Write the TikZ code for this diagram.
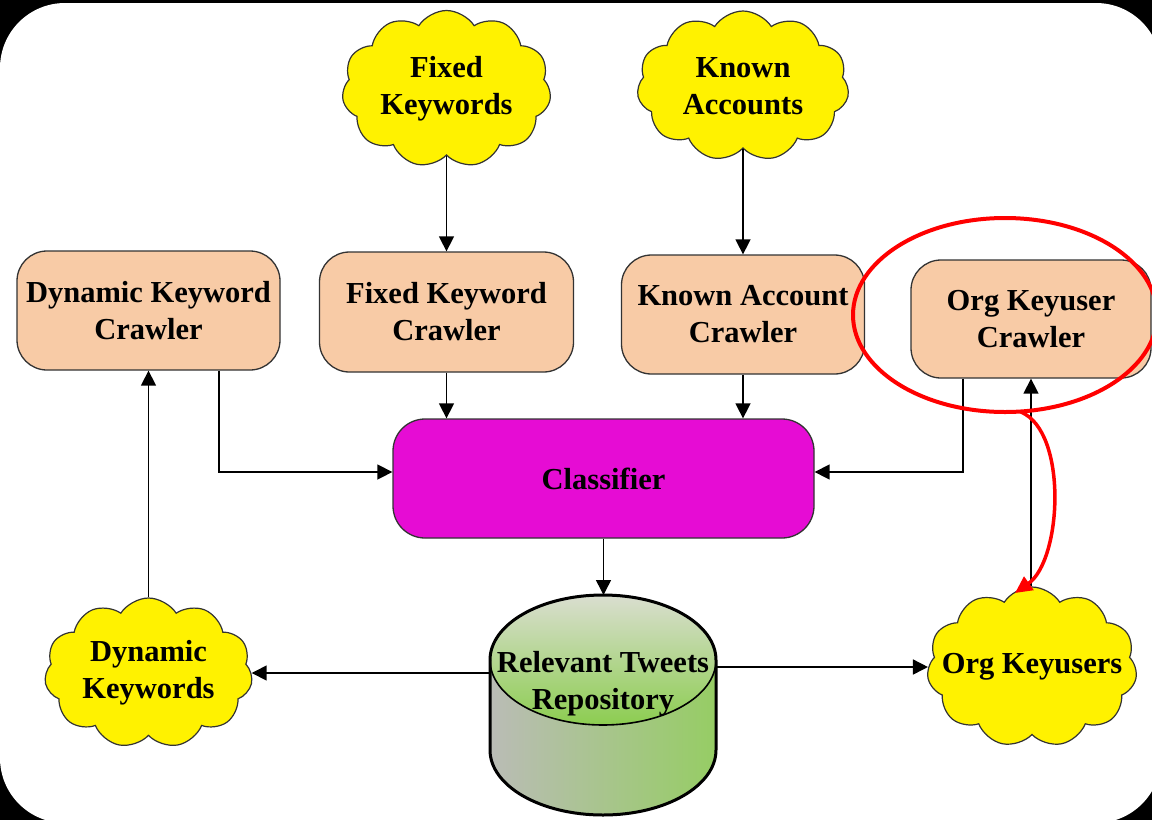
\documentclass[tikz,border=0pt]{standalone}
\usepackage{fontspec}
\setmainfont{Liberation Serif}
\usetikzlibrary{shapes.symbols,shapes.geometric,arrows.meta,calc}
\definecolor{peach}{RGB}{248,203,166}
\definecolor{magen}{RGB}{230,12,212}
\definecolor{cylgray}{RGB}{186,188,182}
\definecolor{cylgreen}{RGB}{150,205,100}
\definecolor{toplight}{RGB}{218,222,208}
\definecolor{topgreen}{RGB}{140,205,80}
\begin{document}
\begin{tikzpicture}[x=1pt,y=-1pt,
  lbl/.style={font=\fontsize{30.5}{37}\selectfont\bfseries, align=center, text=black},
  crawler/.style={lbl, draw=black!80, line width=1.3pt, fill=peach, rounded corners=30pt, inner sep=0pt},
  cloudnode/.style={lbl, cloud, cloud puffs=11, cloud puff arc=115, cloud ignores aspect, draw=black!80, line width=1.2pt, fill=yellow, inner sep=0pt},
  conn/.style={line width=1.5pt, -{Triangle[length=15pt,width=15pt]}},
]
\useasboundingbox (0,0) rectangle (1152,820);
\clip (0,0) rectangle (1152,820);
\fill[black] (0,0) rectangle (1152,820);
\fill[white, rounded corners=65pt] (0,3) rectangle (1161,823);

% clouds
\node[cloudnode, minimum width=209pt, minimum height=157pt] (fk) at (446.5,89) {Fixed\\Keywords};
\node[cloudnode, minimum width=212pt, minimum height=150pt] (ka) at (743,86) {Known\\Accounts};
\node[cloudnode, minimum width=208pt, minimum height=150pt] (dk) at (148.5,673) {Dynamic\\Keywords};
\node[cloudnode, minimum width=210pt, minimum height=160pt] (ok) at (1032,667) {\makebox[140pt]{Org Keyusers}};

% crawlers
\node[crawler, minimum width=263pt, minimum height=119pt] (dkc) at (148.5,310.5) {Dynamic Keyword\\Crawler};
\node[crawler, minimum width=254pt, minimum height=120pt] (fkc) at (446.5,312) {Fixed Keyword\\Crawler};
\node[crawler, minimum width=243pt, minimum height=119pt] (kac) at (743,314.5) {Known Account\\Crawler};
\node[crawler, minimum width=240pt, minimum height=118pt] (okc) at (1031,319) {Org Keyuser\\Crawler};

% classifier
\node[lbl, draw=black!80, line width=1.3pt, fill=magen, rounded corners=32pt, inner sep=0pt,
      minimum width=421pt, minimum height=119pt] (cls) at (603.5,478.5) {Classifier};

% repository cylinder
\shade[left color=cylgray, right color=cylgreen] (490,660) rectangle (716,750);
\shade[left color=cylgray, right color=cylgreen] (603,750) ellipse [x radius=113, y radius=65];
\shade[top color=toplight, bottom color=topgreen] (603,660) ellipse [x radius=113, y radius=65];
\draw[line width=1.6pt] (603,660) ellipse [x radius=113, y radius=65];
\draw[line width=3pt] (490,660) -- (490,750) arc[start angle=180, end angle=0, x radius=113, y radius=65] -- (716,660);
\draw[line width=3pt] (490,660) arc[start angle=180, end angle=360, x radius=113, y radius=65];
\coordinate (reptop) at (603.5,595);
\node[lbl, inner sep=0pt, minimum width=226pt] (rep) at (603,684) {Relevant Tweets\\Repository};

% connectors
\draw[conn] (fk.south) -- (fk.south |- fkc.north);
\draw[conn] (ka.south) -- (ka.south |- kac.north);
\draw[conn] (fkc.south) -- (fkc.south |- cls.north);
\draw[conn] (kac.south) -- (kac.south |- cls.north);
\draw[conn] ([xshift=70.5pt]dkc.south) |- ([yshift=6.5pt]cls.west);
\draw[conn] ([xshift=-68pt]okc.south) |- ([yshift=6.5pt]cls.east);
\draw[conn] (cls.south) -- (reptop);
\draw[conn] (rep.west |- dk.east) -- (dk.east);
\draw[conn] (rep.east |- ok.west) -- (ok.west);
\draw[conn] (dk.north) -- (dk.north |- dkc.south);
\draw[conn] (okc.south |- ok.north) -- (okc.south);

% red highlight
\node[draw=red, line width=4pt, ellipse, minimum width=304pt, minimum height=194pt, inner sep=0pt] (hl) at (1005,315) {};
\coordinate (rs) at (1021,412);
\coordinate (rt) at (1015,593);
\draw[red, line width=3.5pt, -{Triangle[length=17pt,width=16pt]}] (rs) .. controls (1068,432) and (1062,560) .. (rt);
\end{tikzpicture}
\end{document}
